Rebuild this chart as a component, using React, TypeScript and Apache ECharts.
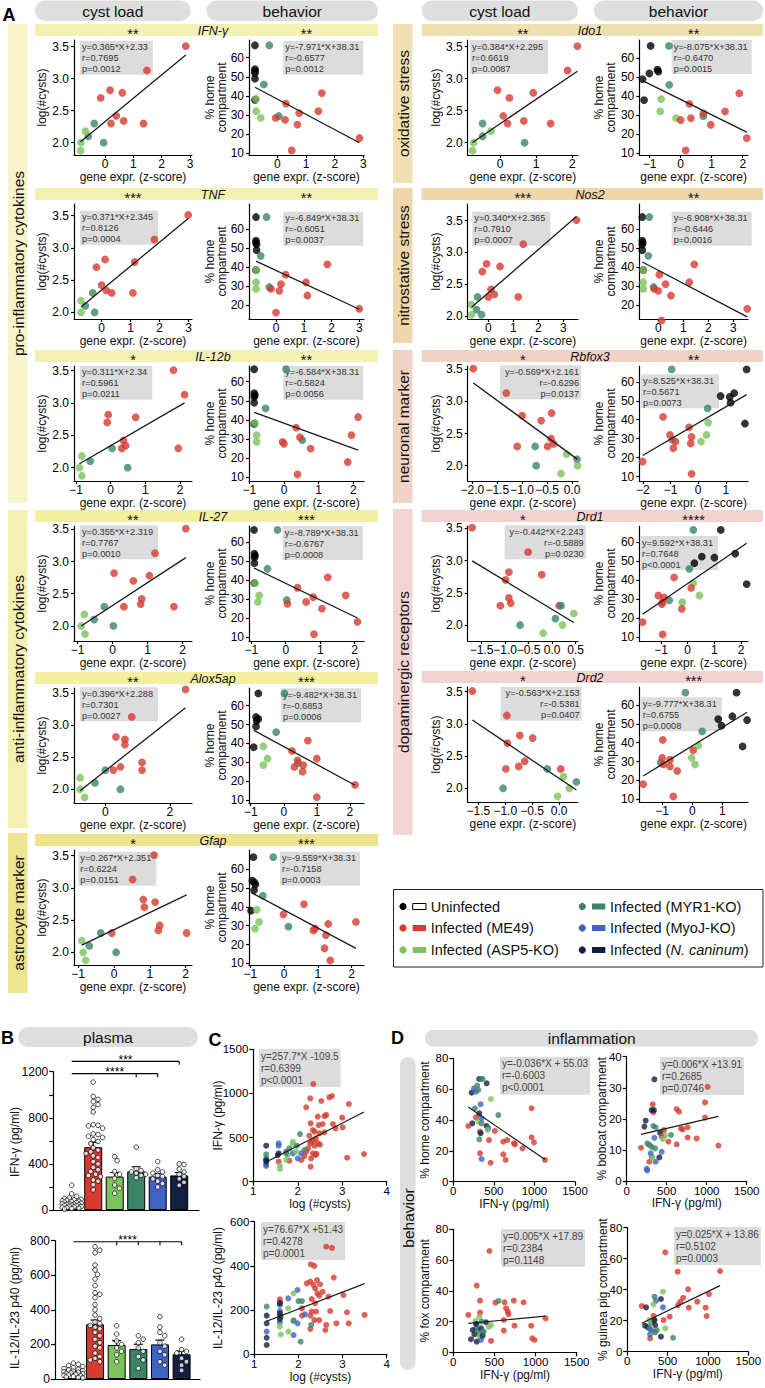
import React, { useEffect, useRef } from "react";
import * as echarts from "echarts";

const FONT = "'Liberation Sans', Arial, Helvetica, sans-serif";
const GROUP_COLORS = ["#000000", "#d63b2f", "#7cc35b", "#3b8468", "#3e63c3", "#142040"];
const GROUP_NAMES = ["Uninfected", "Infected (ME49)", "Infected (ASP5-KO)", "Infected (MYR1-KO)", "Infected (MyoJ-KO)", "Infected ({i|N. caninum})"];

// ---------- Panel A data: [gene expression z-score, value, group] ----------
const IFNG_CYST = [[2.85,3.51,1],[1.48,3.13,1],[0.18,2.82,1],[0.61,2.78,1],[-0.15,2.7,1],[0.4,2.42,1],[0.66,2.34,1],[0.21,2.3,1],[1.36,2.3,1],[-0.38,2.3,3],[-0.59,2.1,3],[-0.05,2.0,3],[-0.69,2.18,2],[-0.85,2.0,2],[-0.86,1.875,2]];
const IFNG_BEH = [[-0.78,66.5,0],[-0.78,54,0],[-0.78,53,0],[-0.78,52,0],[-0.78,49,0],[-0.78,38,0],[-0.28,66.5,3],[-0.47,46,3],[0.05,29.5,3],[-0.74,38.5,2],[-0.74,32,2],[-0.58,28.5,2],[1.55,41.5,1],[0.3,36,1],[1.43,32,1],[0.76,31,1],[-0.06,28.5,1],[0.27,27.5,1],[0.7,25,1],[2.86,18,1],[0.5,11.5,1]];
const TNF_CYST = [[2.99,3.51,1],[1.82,3.13,1],[0.12,2.82,1],[1.14,2.78,1],[-0.18,2.7,1],[0.0,2.42,1],[0.16,2.34,1],[0.35,2.3,1],[1.08,2.3,1],[-0.31,2.3,3],[-0.56,2.1,3],[-0.24,2.0,3],[-0.71,2.18,2],[-0.71,2.0,2]];
const TNF_BEH = [[-0.72,66.5,0],[-0.72,54,0],[-0.72,53,0],[-0.7,52,0],[-0.7,49,0],[-0.72,38.5,0],[-0.34,66.5,3],[-0.55,46,3],[-0.24,29.5,3],[-0.7,38.5,2],[-0.72,32,2],[-0.72,28.5,2],[1.85,41.5,1],[0.35,36,1],[1.08,32,1],[0.18,31,1],[-0.18,28.5,1],[0.12,27.5,1],[1.13,25,1],[3.0,18,1],[0.0,16,1]];
const IL12B_CYST = [[1.81,3.51,1],[2.13,3.13,1],[-0.07,2.82,1],[0.72,2.78,1],[-0.1,2.7,1],[0.37,2.42,1],[0.43,2.34,1],[0.32,2.3,1],[1.95,2.3,1],[0.04,2.3,3],[-0.59,2.1,3],[0.49,2.0,3],[-0.83,2.18,2],[-0.9,2.0,2],[-0.83,1.875,2]];
const IL12B_BEH = [[-0.86,66.5,0],[-0.86,54,0],[-0.84,53,0],[-0.86,52,0],[-0.86,49,0],[-0.86,38,0],[0.06,66.5,3],[-0.53,46,3],[0.53,29.5,3],[-0.84,38.5,2],[-0.79,32,2],[-0.79,28.5,2],[2.14,41.5,1],[0.35,36,1],[1.95,32,1],[0.46,31,1],[-0.04,28.5,1],[0.0,27.5,1],[0.77,25,1],[1.84,18,1],[0.39,11.5,1]];
const IL27_CYST = [[2.09,3.51,1],[1.21,3.13,1],[0.04,2.82,1],[1.05,2.78,1],[0.59,2.7,1],[0.83,2.42,1],[0.8,2.34,1],[0.32,2.3,1],[1.75,2.3,1],[-0.24,2.3,3],[-0.53,2.1,3],[0.02,2.0,3],[-0.81,2.18,2],[-0.9,2.0,2],[-0.79,1.875,2]];
const IL27_BEH = [[-0.92,66.5,0],[-0.91,54,0],[-0.89,53,0],[-0.91,52,0],[-0.91,49,0],[-0.91,38.5,0],[-0.24,66.5,3],[-0.53,46,3],[0.03,29.5,3],[-0.89,38.5,2],[-0.77,32,2],[-0.81,28.5,2],[1.22,41.5,1],[0.34,36,1],[1.74,32,1],[0.8,31,1],[0.59,28.5,1],[0.05,27.5,1],[1.05,25,1],[2.08,18,1],[0.82,11.5,1]];
const ALOX_CYST = [[2.49,3.56,1],[0.82,3.13,1],[0.33,2.82,1],[0.61,2.78,1],[0.61,2.7,1],[1.14,2.42,1],[0.47,2.35,1],[0.25,2.3,1],[1.14,2.3,1],[0.0,2.3,3],[-0.32,2.1,3],[0.47,2.0,3],[-0.78,2.18,2],[-0.78,2.0,2],[-0.64,1.875,2]];
const ALOX_BEH = [[-0.77,66.5,0],[-0.84,54,0],[-0.77,53,0],[-0.82,52,0],[-0.84,49,0],[-0.91,38,0],[0.02,66.5,3],[-0.23,46,3],[0.43,29.5,3],[-0.62,38.5,2],[-0.49,32,2],[-0.62,28.5,2],[0.73,41.5,1],[0.25,36,1],[1.0,32,1],[0.42,31,1],[0.59,28.5,1],[0.32,27.5,1],[0.57,25,1],[2.16,18,1],[1.0,11.5,1]];
const GFAP_CYST = [[1.12,3.51,1],[0.52,3.13,1],[0.82,2.82,1],[1.15,2.78,1],[0.85,2.7,1],[1.28,2.42,1],[1.24,2.34,1],[-0.06,2.3,1],[2.03,2.3,1],[-0.37,2.3,3],[-0.69,2.1,3],[0.06,2.0,3],[-0.9,2.18,2],[-0.86,2.0,2],[-0.79,1.875,2]];
const GFAP_BEH = [[-0.91,66.5,0],[-0.94,54,0],[-0.88,53,0],[-0.85,52,0],[-0.89,49,0],[-0.98,38,0],[-0.32,66.5,3],[-0.63,46,3],[0.13,29.5,3],[-0.81,38.5,2],[-0.74,32,2],[-0.86,28.5,2],[0.59,41.5,1],[-0.02,36,1],[2.13,32,1],[1.31,31,1],[0.92,28.5,1],[0.87,27.5,1],[1.24,25,1],[1.2,18,1],[1.37,11.5,1]];
const IDO1_CYST = [[2.14,3.51,1],[1.87,3.13,1],[-0.07,2.82,1],[0.92,2.78,1],[0.26,2.7,1],[0.09,2.42,1],[0.66,2.34,1],[0.21,2.3,1],[1.4,2.3,1],[-0.48,2.3,3],[-0.48,2.1,3],[0.68,2.0,3],[-0.25,2.18,2],[-0.73,2.0,2],[-0.76,1.875,2]];
const IDO1_BEH = [[-0.97,66.5,0],[-0.75,54,0],[-0.72,53,0],[-1.01,52,0],[-1.23,49,0],[-1.18,38,0],[-0.38,66.5,3],[-0.37,46,3],[0.73,29.5,3],[-0.63,38.5,2],[-0.66,32,2],[-0.15,28.5,2],[1.89,41.5,1],[0.28,36,1],[1.43,32,1],[0.73,31,1],[0.33,28.5,1],[0.0,27.5,1],[0.97,25,1],[2.13,18,1],[0.16,11.5,1]];
const NOS2_CYST = [[3.53,3.51,1],[1.4,3.13,1],[-0.07,2.82,1],[0.47,2.78,1],[-0.24,2.7,1],[0.11,2.42,1],[0.24,2.34,1],[0.0,2.3,1],[1.2,2.3,1],[-0.43,2.3,3],[-0.47,2.1,3],[-0.27,2.02,3],[-0.67,2.18,2],[-0.67,2.02,2]];
const NOS2_BEH = [[-0.64,66.5,0],[-0.64,54,0],[-0.62,53,0],[-0.64,52,0],[-0.64,49,0],[-0.6,38.5,0],[-0.36,66.5,3],[-0.4,46,3],[-0.19,29.5,3],[-0.6,38.5,2],[-0.6,32,2],[-0.6,28.5,2],[1.44,41.5,1],[0.04,36,1],[1.24,32,1],[0.29,31,1],[-0.16,28.5,1],[0.0,27.5,1],[0.51,25,1],[3.56,18,1],[0.13,11.8,1]];
const RBFOX3_CYST = [[-1.98,3.51,1],[-1.32,3.13,1],[-0.41,2.82,1],[-1.0,2.78,1],[-0.62,2.7,1],[-0.42,2.42,1],[-0.37,2.34,1],[-0.49,2.3,1],[-1.1,2.3,1],[-0.74,2.3,3],[0.1,2.1,3],[-0.72,2.0,3],[-0.11,2.18,2],[0.11,2.0,2],[-0.22,1.875,2]];
const RBFOX3_BEH = [[1.75,66.5,0],[1.3,54,0],[0.81,52.5,0],[1.14,52,0],[1.17,49,0],[1.69,38,0],[-0.96,66.5,3],[0.34,46,3],[-0.94,29.5,3],[0.36,38.5,2],[0.3,32,2],[0.1,28.5,2],[-1.27,41.5,1],[-0.33,36,1],[-1.02,32,1],[-0.24,31,1],[-0.82,28.5,1],[-0.27,27.5,1],[-0.9,25,1],[-2.01,18,1],[-0.24,11.5,1]];
const DRD1_CYST = [[-1.7,3.51,1],[-0.51,3.13,1],[-0.92,2.82,1],[-0.22,2.78,1],[-0.99,2.7,1],[-0.92,2.42,1],[-0.88,2.34,1],[-1.1,2.3,1],[0.15,2.3,1],[0.19,2.3,3],[0.07,2.1,3],[-0.68,2.0,3],[0.46,2.18,2],[0.22,2.0,2],[-0.19,1.875,2]];
const DRD1_BEH = [[1.24,66.5,0],[1.78,54,0],[0.53,52.5,0],[1.0,52,0],[0.25,49,0],[2.21,38,0],[0.21,66.5,3],[0.06,46,3],[-0.69,29.5,3],[0.21,38.5,2],[0.44,32,2],[-0.2,28.5,2],[-0.51,41.5,1],[0.13,36,1],[-1.1,32,1],[-0.89,31,1],[-0.94,28.5,1],[-0.97,27.5,1],[-0.22,25,1],[-1.69,18,1],[-0.94,11.5,1]];
const DRD2_CYST = [[-1.61,3.51,1],[-0.97,3.13,1],[-0.73,2.82,1],[-0.49,2.78,1],[-0.96,2.7,1],[-0.64,2.42,1],[-0.75,2.34,1],[-0.99,2.3,1],[0.03,2.3,1],[-0.22,2.3,3],[0.32,2.1,3],[-1.04,2.0,3],[0.08,2.18,2],[0.19,2.0,2],[-0.03,1.875,2]];
const DRD2_BEH = [[1.47,66.5,0],[1.33,54,0],[0.86,52.5,0],[1.82,52,0],[0.97,49,0],[1.67,38,0],[-0.23,66.5,3],[0.33,46,3],[-1.05,29.5,3],[0.21,38.5,2],[-0.02,32,2],[0.09,28.5,2],[-0.98,41.5,1],[0.03,36,1],[-1.0,32,1],[-0.74,31,1],[-0.96,28.5,1],[-0.74,27.5,1],[-0.5,25,1],[-1.63,18,1],[-0.63,11.5,1]];

// ---------- Panel B data ----------
const B_GROUPS = [0, 1, 2, 3, 4, 5];
const B_IFNG_MEAN = [50, 545, 290, 335, 290, 300];
const B_IFNG_SEM = [8, 42, 35, 40, 25, 25];
const B_IFNG_DOTS = [
  [215,140,118,105,98,92,88,84,80,76,72,68,64,60,57,54,51,48,45,42,39,36,33,30,27,24,20,16,12,8],
  [1110,985,960,940,915,890,850,740,735,730,710,660,655,640,630,610,595,575,540,520,505,490,470,455,420,400,370,350,335,310,300,290,260,250,220,175],
  [463,428,333,310,275,217,188,145],
  [545,360,340,330,320,310,300,280],
  [420,350,330,320,300,290,270,250,230,200],
  [400,395,355,330,310,290,270,240,215],
];
const B_P40_MEAN = [38, 316, 197, 173, 200, 143];
const B_P40_SEM = [5, 25, 25, 28, 25, 18];
const B_P40_DOTS = [
  [92,85,78,72,66,60,56,52,48,45,42,39,36,33,30,27,24,21,18,15,12,9,6],
  [765,745,730,659,630,605,578,540,499,490,470,430,400,370,350,330,320,310,300,290,270,250,230,210,190,180,150,130,120,110,100],
  [308,260,220,200,180,160,140,100],
  [250,230,210,180,160,130,110,62],
  [360,300,270,250,210,190,160,140,100,80],
  [230,170,160,150,120,100,80,50],
];
// [from group, to group, value level], tick groups, label
const B_IFNG_BRACKETS = [[0, 5, 1290], [0, 4, 1183]];
const B_IFNG_BRACKET_TICKS = [[5], [3, 4]];
const B_IFNG_BRACKET_LABELS = ["***", "****"];
const B_P40_BRACKETS = [[0, 5, 794]];
const B_P40_BRACKET_TICKS = [[2, 3, 4, 5]];
const B_P40_BRACKET_LABELS = ["****"];

// ---------- Panel C data: [log(#cysts), pg/ml, group] ----------
const C_IFNG = [[2.35,1107,1],[2.28,945,1],[2.53,914,1],[2.71,956,1],[2.77,971,1],[3.15,880,1],[2.19,842,1],[2.45,737,1],[2.6,744,1],[2.64,756,1],[3.0,725,1],[2.29,661,1],[2.47,642,1],[2.56,654,1],[2.79,654,1],[2.85,604,1],[3.01,616,1],[2.34,586,1],[2.38,567,1],[2.49,548,1],[2.6,559,1],[2.26,521,1],[2.41,491,1],[2.3,453,1],[2.45,434,1],[2.38,408,1],[2.23,378,1],[2.19,340,1],[2.34,321,1],[2.4,302,1],[2.42,315,1],[2.3,264,1],[2.08,246,1],[1.57,227,1],[1.81,238,1],[2.29,170,1],[3.11,272,1],[3.49,314,1],[2.28,430,1],[2.5,420,1],[2.15,290,1],[2.35,470,1],
  [1.57,434,4],[1.57,408,4],[1.74,340,4],[1.89,321,4],[2.0,264,4],[2.08,321,4],[1.29,178,4],[1.29,195,4],
  [1.6,181,2],[1.6,144,2],[1.89,453,2],[1.89,425,2],[1.77,302,2],[1.96,340,2],[1.74,246,2],
  [1.29,310,3],[1.29,264,3],[2.05,540,3],[1.81,378,3],[1.98,408,3],[2.15,359,3],[1.74,321,3],
  [1.29,408,5],[1.29,246,5],[1.29,227,5],[1.57,321,5],[1.55,302,5]];
const C_P40 = [[2.63,487,1],[2.76,482,1],[2.28,407,1],[2.36,400,1],[2.8,347,1],[2.27,329,1],[2.42,336,1],[2.19,321,1],[2.34,314,1],[2.49,317,1],[2.38,298,1],[2.55,283,1],[2.43,276,1],[3.02,268,1],[2.68,261,1],[2.3,250,1],[2.47,265,1],[1.58,249,1],[2.38,231,1],[2.08,208,1],[2.3,193,1],[2.4,193,1],[2.72,196,1],[3.1,190,1],[2.27,175,1],[2.08,175,1],[2.36,155,1],[2.47,155,1],[2.63,133,1],[2.86,140,1],[3.14,140,1],[3.5,178,1],[2.27,115,1],[2.61,110,1],[1.58,235,1],
  [1.98,291,4],[1.77,253,4],[1.58,223,4],[1.58,196,4],[1.6,170,4],[1.58,145,4],[1.28,103,4],[1.89,87,4],[1.98,140,4],[2.15,181,4],
  [1.89,276,2],[1.77,208,2],[1.89,155,2],[1.58,125,2],[1.77,103,2],[1.6,90,2],
  [1.28,216,3],[2.0,241,3],[2.08,241,3],[1.89,151,3],[2.05,57,3],[2.29,133,3],[1.58,175,3],
  [1.28,175,5],[1.28,140,5],[1.28,75,5],[1.28,42,5],[1.58,231,5],[1.58,185,5],[1.58,160,5]];

// ---------- Panel D data: [IFN-γ pg/ml, % compartment, group] ----------
const D_HOME = [[320,66.6,5],[361,66.6,3],[340,66.6,3],[411,63.8,5],[464,53.6,2],[226,57.7,5],[255,60.5,4],[279,58.4,4],[308,59.5,3],[296,62.3,3],[965,47.6,1],[555,43.2,3],[337,50.2,4],[267,47.6,3],[279,41.7,1],[234,37.8,5],[185,36.1,1],[320,44.3,5],[308,38.9,2],[349,37.8,3],[349,41.1,4],[411,36.1,5],[431,34.6,4],[423,33.5,2],[329,32.4,1],[337,31.4,5],[513,32.9,1],[320,27.5,3],[440,27.0,1],[616,25.9,1],[665,27.0,1],[748,24.9,1],[760,24.2,1],[854,21.6,1],[965,28.8,1],[994,25.5,1],[616,17.7,1],[645,14.1,1],[329,18.4,1],[460,12.3,1],[349,14.7,4],[1130,14.1,1]];
const D_BOBCAT = [[346,32.7,5],[1012,30.3,1],[979,25.3,1],[325,24.7,1],[333,22.1,1],[312,22.8,5],[340,22.8,5],[625,23.1,1],[654,22.3,1],[237,19.4,5],[979,20.4,1],[221,17.5,5],[333,17.7,3],[362,17.3,3],[679,16.9,1],[700,16.6,1],[762,17.3,1],[467,16.4,1],[417,15.5,5],[554,14.8,3],[479,14.6,2],[437,14.3,1],[346,13.9,4],[762,14.0,1],[875,13.7,1],[450,13.5,2],[521,12.7,1],[625,11.8,1],[258,12.1,3],[283,11.6,3],[312,11.0,3],[354,10.5,3],[1146,11.4,1],[179,10.7,1],[437,9.4,4],[408,7.6,5],[312,7.8,3],[300,8.9,4],[283,6.2,1],[362,6.2,4],[250,3.9,4],[258,3.4,4],[320,7.5,2]];
const D_FOX = [[439,65.9,1],[285,43.4,1],[325,33.6,1],[622,32.5,1],[512,32.3,1],[549,33.4,3],[736,33.6,1],[854,32.5,1],[642,28.6,1],[663,26.5,1],[671,24.7,1],[183,24.3,1],[325,25.8,1],[614,21.0,1],[317,23.2,2],[744,17.3,1],[947,17.3,1],[614,14.1,1],[459,7.4,1],[959,9.1,1],[988,8.0,1],[1122,22.1,1],[268,20.4,2],[285,18.5,3],[398,19.5,5],[431,16.5,2],[459,17.8,2],[276,15.6,4],[236,14.5,5],[300,14.5,3],[337,15.6,5],[358,13.5,4],[317,11.7,3],[256,11.7,5],[317,10.2,2],[215,8.5,5],[285,6.9,5],[337,8.0,4],[358,10.8,5],[370,13.5,3],[276,18.4,5],[345,20.0,3]];
const D_GUINEA = [[471,64.1,1],[625,51.6,1],[1150,52.0,1],[754,40.2,1],[417,34.0,5],[442,38.7,2],[692,34.8,1],[658,32.3,1],[629,30.1,1],[867,32.3,1],[1012,37.2,1],[971,28.4,1],[762,28.4,1],[983,23.0,1],[179,29.5,1],[233,28.6,5],[337,35.5,3],[354,32.7,4],[325,30.5,2],[442,28.6,4],[450,20.4,1],[525,22.6,1],[333,20.4,1],[325,23.2,1],[471,15.1,2],[567,9.0,3],[283,8.6,1],[417,9.7,5],[283,11.2,4],[221,16.8,5],[254,15.7,5],[296,18.7,3],[275,15.1,3],[317,12.5,2],[346,12.5,3],[346,17.2,5],[367,14.0,3],[296,14.0,4],[275,20.4,2],[337,20.4,5]];

const CYST_Y_TICKS = [2.0, 2.5, 3.0, 3.5];
const BEH_Y_TICKS = [10, 20, 30, 40, 50, 60];

type Side = "L" | "R";
// box: [anchor side, dx, dy, text alignment]
interface Plot { data: number[][]; fit: number[]; xr: number[]; yr: number[]; xt: number[]; dec?: number; stats: string[]; box: any[]; ylow?: number; }
interface Gene { name: string; col: Side; row: number; hdr: string; stars: string[]; cyst: Plot; beh: Plot; }

const GENES: Gene[] = [
  { name: "IFN-\u03b3", col: "L", row: 0, hdr: "#f4f1b4", stars: ["**", "**"],
    cyst: { data: IFNG_CYST, fit: [0.365, 2.33], xr: [-1.094, 3.07], yr: [1.808, 3.605], xt: [0, 1, 2, 3], stats: ["y=0.365*X+2.33", "r=0.7695", "p=0.0012"], box: ["L", 6, 16.7, "left"] },
    beh: { data: IFNG_BEH, fit: [-7.971, 38.31], xr: [-0.988, 3.02], yr: [9.11, 69.26], xt: [-1, 0, 1, 2, 3], stats: ["y=-7.971*X+38.31", "r=-0.6577", "p=0.0012"], box: ["R", -0.7, 16.7, "left"] } },
  { name: "TNF", col: "L", row: 1, hdr: "#f4f1b4", stars: ["***", "**"],
    cyst: { data: TNF_CYST, fit: [0.371, 2.345], xr: [-0.953, 3.12], yr: [1.896, 3.68], xt: [0, 1, 2, 3], stats: ["y=0.371*X+2.345", "r=0.8126", "p=0.0004"], box: ["L", 6, 22.7, "left"] },
    beh: { data: TNF_BEH, fit: [-6.849, 38.31], xr: [-0.972, 3.17], yr: [12.6, 73.4], xt: [0, 1, 2, 3], stats: ["y=-6.849*X+38.31", "r=-0.6051", "p=0.0037"], box: ["R", -0.7, 23.7, "left"], ylow: 14.35 } },
  { name: "IL-12b", col: "L", row: 2, hdr: "#f4f1b4", stars: ["*", "**"],
    cyst: { data: IL12B_CYST, fit: [0.311, 2.34], xr: [-1.058, 2.345], yr: [1.794, 3.573], xt: [-1, 0, 1, 2], stats: ["y=0.311*X+2.34", "r=0.5961", "p=0.0211"], box: ["L", 6, 15.7, "left"] },
    beh: { data: IL12B_BEH, fit: [-6.584, 38.31], xr: [-1.01, 2.31], yr: [8.07, 68.2], xt: [-1, 0, 1, 2], stats: ["y=-6.584*X+38.31", "r=-0.5824", "p=0.0056"], box: ["R", -0.7, 15.7, "left"] } },
  { name: "IL-27", col: "L", row: 3, hdr: "#f3efa0", stars: ["**", "***"],
    cyst: { data: IL27_CYST, fit: [0.355, 2.319], xr: [-1.105, 2.266], yr: [1.767, 3.551], xt: [-1, 0, 1, 2], stats: ["y=0.355*X+2.319", "r=0.7767", "p=0.0010"], box: ["L", 6, 15.2, "left"] },
    beh: { data: IL27_BEH, fit: [-8.789, 38.31], xr: [-1.066, 2.27], yr: [7.89, 68.6], xt: [-1, 0, 1, 2], stats: ["y=-8.789*X+38.31", "r=-0.6767", "p=0.0008"], box: ["R", -1.3, 16, "left"] } },
  { name: "Alox5ap", col: "L", row: 4, hdr: "#f3efa0", stars: ["**", "***"],
    cyst: { data: ALOX_CYST, fit: [0.396, 2.288], xr: [-0.97, 2.69], yr: [1.786, 3.583], xt: [0, 2], stats: ["y=0.396*X+2.288", "r=0.7301", "p=0.0027"], box: ["L", 6, 15.2, "left"] },
    beh: { data: ALOX_BEH, fit: [-9.482, 38.31], xr: [-1.053, 2.43], yr: [8.4, 69.4], xt: [-1, 0, 1, 2], stats: ["y=-9.482*X+38.31", "r=-0.6853", "p=0.0006"], box: ["R", -3, 16.3, "left"] } },
  { name: "Gfap", col: "L", row: 5, hdr: "#ede48e", stars: ["*", "***"],
    cyst: { data: GFAP_CYST, fit: [0.267, 2.351], xr: [-1.117, 2.18], yr: [1.803, 3.589], xt: [-1, 0, 1, 2], stats: ["y=0.267*X+2.351", "r=0.6224", "p=0.0151"], box: ["L", 4.3, 17.7, "left"] },
    beh: { data: GFAP_BEH, fit: [-9.559, 38.31], xr: [-1.04, 2.37], yr: [9.1, 70.3], xt: [-1, 0, 1, 2], stats: ["y=-9.559*X+38.31", "r=-0.7158", "p=0.0003"], box: ["R", -4, 17.7, "left"] } },
  { name: "Ido1", col: "R", row: 0, hdr: "#efe0b0", stars: ["**", "**"],
    cyst: { data: IDO1_CYST, fit: [0.384, 2.295], xr: [-0.893, 2.157], yr: [1.808, 3.605], xt: [0, 1, 2], stats: ["y=0.384*X+2.295", "r=0.6619", "p=0.0087"], box: ["L", 2.3, 16, "left"] },
    beh: { data: IDO1_BEH, fit: [-8.075, 38.31], xr: [-1.335, 2.17], yr: [9.1, 69.6], xt: [-1, 0, 1, 2], stats: ["y=-8.075*X+38.31", "r=-0.6470", "p=0.0015"], box: ["R", 3.7, 16, "left"] } },
  { name: "Nos2", col: "R", row: 1, hdr: "#efd7aa", stars: ["***", "**"],
    cyst: { data: NOS2_CYST, fit: [0.34, 2.365], xr: [-0.824, 3.59], yr: [1.953, 3.763], xt: [0, 1, 2, 3], stats: ["y=0.340*X+2.365", "r=0.7910", "p=0.0007"], box: ["L", 4.6, 23.7, "left"] },
    beh: { data: NOS2_BEH, fit: [-6.908, 38.31], xr: [-0.76, 3.59], yr: [12.6, 73.4], xt: [0, 1, 2, 3], stats: ["y=-6.908*X+38.31", "r=-0.6446", "p=0.0016"], box: ["R", 3.7, 23.7, "left"], ylow: 14.35 } },
  { name: "Rbfox3", col: "R", row: 2, hdr: "#f0d3c4", stars: ["*", "**"],
    cyst: { data: RBFOX3_CYST, fit: [-0.569, 2.161], xr: [-2.093, 0.12], yr: [1.762, 3.552], xt: [-2, -1.5, -1, -0.5, 0], dec: 1, stats: ["y=-0.569*X+2.161", "r=-0.6296", "p=0.0137"], box: ["R", 3, 15.2, "right"] },
    beh: { data: RBFOX3_BEH, fit: [8.525, 38.31], xr: [-2.13, 1.8], yr: [7.74, 68.3], xt: [-2, -1, 0, 1], stats: ["y=8.525*X+38.31", "r=0.5671", "p=0.0073"], box: ["L", 1.7, 24.3, "left"] } },
  { name: "Drd1", col: "R", row: 3, hdr: "#f1d3d1", stars: ["*", "****"],
    cyst: { data: DRD1_CYST, fit: [-0.442, 2.243], xr: [-1.794, 0.55], yr: [1.752, 3.536], xt: [-1.5, -1, -0.5, 0, 0.5], dec: 1, stats: ["y=-0.442*X+2.243", "r=-0.5889", "p=0.0230"], box: ["R", 7.7, 15.2, "right"] },
    beh: { data: DRD1_BEH, fit: [9.592, 38.31], xr: [-1.815, 2.26], yr: [8.05, 68.6], xt: [-1, 0, 1, 2], stats: ["y=9.592*X+38.31", "r=0.7648", "p<0.0001"], box: ["L", 0.7, 26, "left"] } },
  { name: "Drd2", col: "R", row: 4, hdr: "#f1d3d1", stars: ["*", "***"],
    cyst: { data: DRD2_CYST, fit: [-0.563, 2.153], xr: [-1.697, 0.35], yr: [1.787, 3.573], xt: [-1.5, -1, -0.5, 0], dec: 1, stats: ["y=-0.563*X+2.153", "r=-0.5381", "p=0.0407"], box: ["R", 3.7, 15.7, "right"] },
    beh: { data: DRD2_BEH, fit: [9.777, 38.31], xr: [-1.76, 1.85], yr: [8.57, 69.5], xt: [-1, 0, 1], stats: ["y=-9.777*X+38.31", "r=0.6755", "p=0.0008"], box: ["L", 1.4, 26.3, "left"] } },
];

const LEFT_ROWS = [24, 188, 350, 510, 672, 834];
const RIGHT_ROWS = [24, 188, 350, 510, 671];
const COLX: any = { L: { c: [74, 192], b: [249, 364], hdr: [35, 378], gene: 213 }, R: { c: [467.7, 578], b: [639.3, 748], hdr: [421.7, 763], gene: 590 } };

const SIDE_BARS = [
  { text: "pro-inflammatory cytokines", x: 8, y0: 24, y1: 503, color: "#f6f4c8" },
  { text: "anti-inflammatory cytokines", x: 8, y0: 510, y1: 828, color: "#f4f0b2" },
  { text: "astrocyte marker", x: 8, y0: 833, y1: 993, color: "#ede48f" },
  { text: "oxidative stress", x: 393, y0: 24, y1: 183, color: "#f0e1b4" },
  { text: "nitrostative stress", x: 393, y0: 188, y1: 343, color: "#f0d7ab" },
  { text: "neuronal marker", x: 393, y0: 350, y1: 503, color: "#f0d3c5" },
  { text: "dopaminergic receptors", x: 393, y0: 509, y1: 835, color: "#f2d4d3" },
];

const fmtTick = (v: number, dec: number) => (v < -1e-9 ? "\u2212" : "") + Math.abs(v).toFixed(dec);

let measureCtx: any = null;
function textWidth(s: string, size: number) {
  if (!measureCtx) measureCtx = document.createElement("canvas").getContext("2d");
  measureCtx.font = `${size}px ${FONT}`;
  return measureCtx.measureText(s).width;
}

function txt(x: number, y: number, text: string, size: number, o: any = {}) {
  return {
    type: "text", x, y, rotation: o.rot || 0, z: o.z ?? 10, silent: true,
    style: {
      text, fontSize: size, fontFamily: FONT, fontStyle: o.italic ? "italic" : "normal", fontWeight: o.bold ? "bold" : "normal",
      fill: o.fill || "#111", align: o.align || "center", verticalAlign: o.va || "middle", lineHeight: o.lh,
      backgroundColor: o.bg, padding: o.pad, rich: o.rich,
    },
  };
}
function rect(x: number, y: number, w: number, h: number, fill: string, r = 0, stroke?: string) {
  return { type: "rect", z: 0, silent: true, shape: { x, y, width: w, height: h, r }, style: { fill, stroke, lineWidth: stroke ? 1 : 0 } };
}

function swarm(vals: number[], pxPerVal: number, pxPerCat: number) {
  const d = 4.4;
  const placed: number[][] = [];
  const out: number[][] = [];
  const sorted = [...vals].sort((a, b) => b - a);
  const cands = [0, 2.4, -2.4, 4.8, -4.8, 7.2, -7.2, 9.4, -9.4];
  for (const v of sorted) {
    const py = v * pxPerVal;
    let best = 0, bestD = -1;
    for (const c of cands) {
      let md = Infinity;
      for (const p of placed) md = Math.min(md, Math.hypot(p[0] - c, p[1] - py));
      if (md >= d) { best = c; bestD = Infinity; break; }
      if (md > bestD) { bestD = md; best = c; }
    }
    placed.push([best, py]);
    out.push([best / pxPerCat, v]);
  }
  return out;
}

function buildOption() {
  const grid: any[] = [], xAxis: any[] = [], yAxis: any[] = [], series: any[] = [], els: any[] = [];
  const axisLine = { onZero: false, lineStyle: { color: "#000", width: 1.2 } };
  const tickStyle = { color: "#000", width: 1.2 };
  const plain = (v: number) => String(Math.round(v));

  function addGrid(left: number, top: number, width: number, height: number, xa: any, ya: any) {
    const gi = grid.length;
    grid.push({ left, top, width, height, containLabel: false, outerBoundsMode: "none" });
    xAxis.push({ type: "value", gridIndex: gi, splitLine: { show: false }, axisLine, ...xa });
    yAxis.push({ type: "value", gridIndex: gi, splitLine: { show: false }, axisLine, ...ya });
    return gi;
  }
  const lab = (size: number, margin: number, extra: any = {}) => ({ fontSize: size, margin, color: "#000", fontFamily: FONT, ...extra });

  // ---------- Panel A ----------
  els.push(txt(9, 14.5, "A", 18, { bold: true, fill: "#000" }));
  for (const c of ["L", "R"]) {
    const cx = COLX[c];
    const x0 = cx.hdr[0], x1 = cx.hdr[1];
    const mid = c === "L" ? 198.5 : 586;
    els.push(rect(x0, 0.5, mid - 8 - x0, 20.5, "#dedede", 10));
    els.push(rect(mid + 8, 0.5, x1 - mid - 8, 20.5, "#dedede", 10));
    els.push(txt((x0 + mid - 8) / 2, 11.5, "cyst load", 15.5));
    els.push(txt((mid + 8 + x1) / 2, 11.5, "behavior", 15.5));
  }
  for (const s of SIDE_BARS) {
    els.push(rect(s.x, s.y0, 19.5, s.y1 - s.y0, s.color));
    els.push(txt(s.x + 10, (s.y0 + s.y1) / 2, s.text, 15.5, { rot: Math.PI / 2 }));
  }

  function addPlot(p: Plot, left: number, right: number, rowTop: number, isCyst: boolean, col: Side) {
    const top = rowTop + 16;
    const yt = isCyst ? CYST_Y_TICKS : p.ylow ? [p.ylow, 20, 30, 40, 50, 60] : BEH_Y_TICKS;
    const dec = p.dec ?? 0;
    const gi = addGrid(left, top, right - left, 115,
      { min: p.xr[0], max: p.xr[1], axisTick: { customValues: p.xt, length: 3, lineStyle: tickStyle },
        axisLabel: lab(12, 3, { customValues: p.xt, formatter: (v: number) => fmtTick(v, dec) }),
        name: "gene expr. (z-score)", nameLocation: "middle", nameGap: 14, nameTextStyle: { fontSize: 12, fontFamily: FONT, color: "#111" } },
      { min: p.yr[0], max: p.yr[1], axisTick: { customValues: yt, length: 3, lineStyle: tickStyle },
        axisLabel: lab(12, 5, { customValues: yt, formatter: (v: number) => isCyst ? v.toFixed(1) : (v < 15 ? "10" : String(Math.round(v))) }) });
    series.push({ type: "scatter", xAxisIndex: gi, yAxisIndex: gi, symbolSize: 7.8, clip: false, z: 3, silent: true,
      data: p.data.map((d) => ({ value: [d[0], d[1]], itemStyle: { color: GROUP_COLORS[d[2]] } })) });
    const xs = p.data.map((d) => d[0]);
    const xa = Math.min(...xs), xb = Math.max(...xs);
    series.push({ type: "line", xAxisIndex: gi, yAxisIndex: gi, symbol: "none", silent: true, z: 4, clip: false,
      lineStyle: { color: "#1a1a1a", width: 1.3 }, data: [[xa, p.fit[0] * xa + p.fit[1]], [xb, p.fit[0] * xb + p.fit[1]]] });
    const [side, dx, dy, talign] = p.box;
    const FS = 9.2;
    const w = Math.max(...p.stats.map((s) => textWidth(s, FS)));
    let bx: number;
    let pad: number[];
    if (side === "L") { bx = left + dx; pad = [1, 5, 0, 2]; }
    else if (talign === "right") { bx = right + dx; pad = [1, 2, 0, 5]; }
    else { pad = [1, 4, 0, 2]; bx = right + dx - (w + 6); }
    els.push(txt(bx, rowTop + dy, p.stats.join("\n"), FS,
      { align: talign, va: "top", lh: 11, bg: "#dcdcdc", pad, fill: "#333", z: 1 }));
    const yx = isCyst ? (col === "L" ? 42.3 : 435.7) : (col === "L" ? 216 : 605.3);
    els.push(txt(yx, top + 57.5, isCyst ? "log(#cysts)" : "% home\ncompartment", 12, { rot: Math.PI / 2, lh: 12 }));
  }

  for (const g of GENES) {
    const rowTop = (g.col === "L" ? LEFT_ROWS : RIGHT_ROWS)[g.row];
    const cx = COLX[g.col];
    els.push(rect(cx.hdr[0], rowTop, cx.hdr[1] - cx.hdr[0], 12, g.hdr));
    els.push(txt((cx.c[0] + cx.c[1]) / 2, rowTop + 10, g.stars[0], 14.5, { lh: 6 }));
    els.push(txt((cx.b[0] + cx.b[1]) / 2, rowTop + 10, g.stars[1], 14.5, { lh: 6 }));
    els.push(txt(cx.gene, rowTop + 6.8, g.name, 12.5, { italic: true }));
    addPlot(g.cyst, cx.c[0], cx.c[1], rowTop, true, g.col);
    addPlot(g.beh, cx.b[0], cx.b[1], rowTop, false, g.col);
  }

  // ---------- Legend ----------
  els.push(rect(393.5, 889.5, 369.5, 77.5, "#ffffff", 0, "#222"));
  const legendRows = [906.5, 928, 950];
  GROUP_NAMES.forEach((name, i) => {
    const colL = i < 3;
    const row = colL ? i : i - 3;
    const y = legendRows[row];
    const dx = colL ? 403 : 582.3;
    els.push({ type: "circle", z: 2, silent: true, shape: { cx: dx, cy: y, r: 3.6 }, style: { fill: GROUP_COLORS[i] } });
    els.push({ type: "rect", z: 2, silent: true, shape: { x: dx + 9.7, y: y - 3, width: 13.3, height: 6 },
      style: { fill: i === 0 ? "#fff" : GROUP_COLORS[i], stroke: i === 0 ? "#000" : undefined, lineWidth: i === 0 ? 1 : 0 } });
    els.push(txt(dx + 27.7, y, name, 14.5, { align: "left", rich: { i: { fontStyle: "italic", fontSize: 14.5, fontFamily: FONT, fill: "#111" } } }));
  });

  // ---------- Panel B ----------
  els.push(txt(7.5, 1038, "B", 18, { bold: true, fill: "#000" }));
  els.push(rect(18, 1027, 180, 20, "#dedede", 10));
  els.push(txt(108, 1037.5, "plasma", 15.5));

  function addBars(top: number, left: number, width: number, height: number, xr: number[], ymax: number, yTicks: number[], yLabels: number[],
    means: number[], sems: number[], dots: number[][], brackets: number[][], bTicks: number[][], bLabels: string[]) {
    const gi = addGrid(left, top, width, height,
      { min: xr[0], max: xr[1], axisTick: { show: false }, axisLabel: { show: false } },
      { min: 0, max: ymax, axisTick: { customValues: yTicks, length: 4, lineStyle: tickStyle }, axisLabel: lab(12, 5, { customValues: yLabels, formatter: plain }) });
    const pxPerVal = height / ymax, pxPerCat = width / (xr[1] - xr[0]);
    series.push({ type: "custom", xAxisIndex: gi, yAxisIndex: gi, z: 1, silent: true, clip: false,
      data: B_GROUPS.map((g) => [g, means[g], sems[g]]),
      renderItem: (_p: any, api: any) => {
        const x = api.value(0), m = api.value(1), e = api.value(2);
        const t = api.coord([x, m + e]), b = api.coord([x, m - e]);
        const st = { stroke: "#000", lineWidth: 1.2 };
        return { type: "group", children: [
          { type: "line", shape: { x1: t[0], y1: t[1], x2: b[0], y2: b[1] }, style: st },
          { type: "line", shape: { x1: t[0] - 4.5, y1: t[1], x2: t[0] + 4.5, y2: t[1] }, style: st },
          { type: "line", shape: { x1: b[0] - 4.5, y1: b[1], x2: b[0] + 4.5, y2: b[1] }, style: st } ] };
      } });
    series.push({ type: "bar", xAxisIndex: gi, yAxisIndex: gi, barWidth: 18, z: 2, silent: true,
      data: B_GROUPS.map((g) => ({ value: [g, means[g]], itemStyle: { color: g === 0 ? "#ffffff" : GROUP_COLORS[g], borderColor: "#000", borderWidth: 1 } })) });
    const dotData: number[][] = [];
    B_GROUPS.forEach((g) => swarm(dots[g], pxPerVal, pxPerCat).forEach((d) => dotData.push([g + d[0], d[1]])));
    series.push({ type: "scatter", xAxisIndex: gi, yAxisIndex: gi, symbolSize: 4.6, z: 3, silent: true, clip: false,
      itemStyle: { color: "#fff", borderColor: "#000", borderWidth: 0.9 }, data: dotData });
    series.push({ type: "custom", xAxisIndex: gi, yAxisIndex: gi, z: 4, silent: true, clip: false,
      data: brackets.map((b) => [b[0], b[2]]),
      renderItem: (p: any, api: any) => {
        const b = brackets[p.dataIndex];
        const a = api.coord([b[0], b[2]]), c = api.coord([b[1], b[2]]);
        const st = { stroke: "#000", lineWidth: 1.1 };
        const kids: any[] = [{ type: "line", shape: { x1: a[0], y1: a[1], x2: c[0], y2: c[1] }, style: st }];
        bTicks[p.dataIndex].forEach((t) => { const q = api.coord([t, b[2]]); kids.push({ type: "line", shape: { x1: q[0], y1: q[1], x2: q[0], y2: q[1] + 3.5 }, style: st }); });
        kids.push({ type: "text", x: (a[0] + c[0]) / 2, y: a[1] - 1.5, style: { text: bLabels[p.dataIndex], fontSize: 12, lineHeight: 7, fontFamily: FONT, fill: "#000", align: "center", verticalAlign: "middle" } });
        return { type: "group", children: kids };
      } });
  }
  addBars(1071.7, 53.3, 145.7, 138.3, [-0.856, 5.92], 1200, [0, 200, 400, 600, 800, 1000, 1200], [0, 400, 800, 1200],
    B_IFNG_MEAN, B_IFNG_SEM, B_IFNG_DOTS, B_IFNG_BRACKETS, B_IFNG_BRACKET_TICKS, B_IFNG_BRACKET_LABELS);
  addBars(1240.7, 55, 145, 138.3, [-0.85, 5.85], 800, [0, 200, 400, 600, 800], [0, 200, 400, 600, 800],
    B_P40_MEAN, B_P40_SEM, B_P40_DOTS, B_P40_BRACKETS, B_P40_BRACKET_TICKS, B_P40_BRACKET_LABELS);
  els.push(txt(15, 1142, "IFN-\u03b3 (pg/ml)", 12, { rot: Math.PI / 2 }));
  els.push(txt(15, 1308, "IL-12/IL-23 p40 (pg/ml)", 12, { rot: Math.PI / 2 }));

  // ---------- Panels C & D ----------
  function addXY(left: number, top: number, width: number, height: number, xr: number[], xt: number[], yr: number[], yt: number[],
    data: number[][], fit: number[], xName: string, nameGap: number, stats: string[], bx: number, by: number, yName: string, yNameX: number) {
    const gi = addGrid(left, top, width, height,
      { min: xr[0], max: xr[1], axisTick: { customValues: xt, length: 4, lineStyle: tickStyle }, axisLabel: lab(11.5, 3.5, { customValues: xt, formatter: plain }),
        name: xName, nameLocation: "middle", nameGap, nameTextStyle: { fontSize: 12, fontFamily: FONT, color: "#111" } },
      { min: yr[0], max: yr[1], axisTick: { customValues: yt, length: 4, lineStyle: tickStyle }, axisLabel: lab(11.5, 5, { customValues: yt, formatter: plain }) });
    series.push({ type: "scatter", xAxisIndex: gi, yAxisIndex: gi, symbolSize: 6, z: 3, silent: true, clip: false,
      data: data.map((d) => ({ value: [d[0], d[1]], itemStyle: { color: GROUP_COLORS[d[2]] } })) });
    const xs = data.map((d) => d[0]);
    const xa = Math.min(...xs), xb = Math.max(...xs);
    series.push({ type: "line", xAxisIndex: gi, yAxisIndex: gi, symbol: "none", silent: true, z: 4,
      lineStyle: { color: "#1a1a1a", width: 1.2 }, data: [[xa, fit[0] * xa + fit[1]], [xb, fit[0] * xb + fit[1]]] });
    els.push(txt(bx, by, stats.join("\n"), 10, { align: "left", va: "top", lh: 12, bg: "#dcdcdc", pad: [1, 2, 1, 2], fill: "#444", z: 1 }));
    els.push(txt(yNameX, top + height / 2, yName, 12, { rot: Math.PI / 2 }));
  }
  els.push(txt(215, 1040, "C", 18, { bold: true, fill: "#000" }));
  addXY(253.3, 1049.3, 133.4, 132.4, [1, 4], [1, 2, 3, 4], [0, 1500], [0, 500, 1000, 1500], C_IFNG, [257.7, -109.5], "log (#cysts)", 15,
    ["y=257.7*X -109.5", "r=0.6399", "p<0.0001"], 259, 1049, "IFN-\u03b3 (pg/ml)", 218);
  addXY(254.3, 1221.7, 132.4, 132.6, [1, 4], [1, 2, 3, 4], [0, 600], [0, 200, 400, 600], C_P40, [76.67, 51.43], "log (#cysts)", 15,
    ["y=76.67*X +51.43", "r=0.4278", "p=0.0001"], 261, 1222, "IL-12/IL-23 p40 (pg/ml)", 218.3);

  els.push(txt(397.5, 1038, "D", 18, { bold: true, fill: "#000" }));
  els.push(rect(425, 1030, 333, 16.5, "#dedede", 8));
  els.push(txt(591.7, 1038.5, "inflammation", 15.5));
  els.push(rect(400, 1057, 15.5, 313, "#dedede", 8));
  els.push(txt(408, 1218, "behavior", 15.5, { rot: Math.PI / 2 }));
  const XT = [0, 500, 1000, 1500];
  addXY(453.3, 1058.3, 121.7, 123.4, [0, 1500], XT, [0, 80], [0, 20, 40, 60, 80], D_HOME, [-0.036, 55.03], "IFN-\u03b3 (pg/ml)", 16,
    ["y=-0.036*X + 55.03", "r=-0.6003", "p<0.0001"], 500, 1056.7, "% home compartment", 425);
  addXY(626.7, 1056.7, 120, 124.3, [0, 1500], XT, [0, 40], [0, 10, 20, 30, 40], D_BOBCAT, [0.006, 13.91], "IFN-\u03b3 (pg/ml)", 16,
    ["y=0.006*X +13.91", "r=0.2685", "p=0.0746"], 660, 1057, "% bobcat compartment", 601.7);
  addXY(453.3, 1229.3, 123.4, 123, [0, 1500], XT, [0, 80], [0, 20, 40, 60, 80], D_FOX, [0.005, 17.89], "IFN-\u03b3 (pg/ml)", 16,
    ["y=0.005*X +17.89", "r=0.2384", "p=0.1148"], 501, 1229, "% fox compartment", 425);
  addXY(627.3, 1227.7, 121, 124, [0, 1500], XT, [0, 80], [0, 20, 40, 60, 80], D_GUINEA, [0.025, 13.86], "IFN-\u03b3 (pg/ml)", 16,
    ["y=0.025*X + 13.86", "r=0.5102", "p=0.0003"], 674, 1227, "% guinea pig compartment", 602.7);

  return { animation: false, grid, xAxis, yAxis, series, graphic: { elements: els } };
}

export default function App() {
  const ref = useRef<HTMLDivElement>(null);
  useEffect(() => {
    document.body.style.margin = "0";
    const chart = echarts.init(ref.current as HTMLDivElement, undefined, { renderer: "svg" });
    chart.setOption(buildOption() as any);
    return () => chart.dispose();
  }, []);
  return <div ref={ref} style={{ width: 765, height: 1388, background: "#fff" }} />;
}
